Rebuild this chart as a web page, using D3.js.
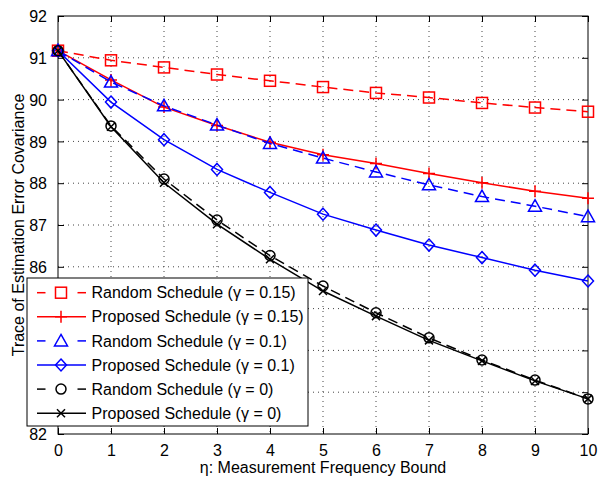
<!DOCTYPE html>
<html>
<head>
<meta charset="utf-8">
<script src="https://cdn.jsdelivr.net/npm/d3@7/dist/d3.min.js"></script>
<style>
  html, body { margin: 0; padding: 0; background: #fff; }
  svg { display: block; font-family: "Liberation Sans", Arial, Helvetica, sans-serif; }
</style>
</head>
<body>
<svg id="chart" width="598" height="479"></svg>
<script>
// ---- Data ----
const etaValues = [0, 1, 2, 3, 4, 5, 6, 7, 8, 9, 10];
const xTicks = [0, 1, 2, 3, 4, 5, 6, 7, 8, 9, 10];
const yTicks = [82, 83, 84, 85, 86, 87, 88, 89, 90, 91, 92];

const randomG015   = [91.17, 90.94, 90.77, 90.60, 90.45, 90.30, 90.16, 90.05, 89.92, 89.81, 89.71];
const proposedG015 = [91.17, 90.47, 89.82, 89.38, 88.98, 88.68, 88.47, 88.23, 88.01, 87.81, 87.64];
const randomG01    = [91.17, 90.42, 89.85, 89.39, 88.95, 88.60, 88.27, 87.96, 87.68, 87.45, 87.20];
const proposedG01  = [91.17, 89.94, 89.04, 88.33, 87.78, 87.26, 86.88, 86.52, 86.22, 85.92, 85.66];
const randomG0     = [91.17, 89.37, 88.10, 87.12, 86.27, 85.54, 84.90, 84.30, 83.77, 83.29, 82.84];
const proposedG0   = [91.17, 89.35, 88.01, 87.02, 86.18, 85.42, 84.82, 84.24, 83.75, 83.27, 82.84];

const seriesNames = [
  "Random Schedule (\u03B3 = 0.15)",
  "Proposed Schedule (\u03B3 = 0.15)",
  "Random Schedule (\u03B3 = 0.1)",
  "Proposed Schedule (\u03B3 = 0.1)",
  "Random Schedule (\u03B3 = 0)",
  "Proposed Schedule (\u03B3 = 0)"
];
const seriesValues = [randomG015, proposedG015, randomG01, proposedG01, randomG0, proposedG0];
const seriesColors = ["#ff0000", "#ff0000", "#0000ff", "#0000ff", "#000000", "#000000"];
const seriesDashed = [true, false, true, false, true, false];
const seriesMarkers = ["square", "plus", "triangle", "diamond", "circle", "cross"];

const xLabel = "\u03B7: Measurement Frequency Bound";
const yLabel = "Trace of Estimation Error Covariance";

(function () {
// ---- Layout ----
const svg = d3.select("#chart");
const pL = 58, pR = 588, pT = 16, pB = 434;
const x = d3.scaleLinear().domain([0, 10]).range([pL, pR]);
const y = d3.scaleLinear().domain([82, 92]).range([pB, pT]);
const FONT = 16;

// Grid
const grid = svg.append("g");
xTicks.slice(1, -1).forEach(t => {
  grid.append("line").attr("x1", x(t)).attr("x2", x(t)).attr("y1", pT).attr("y2", pB)
    .attr("stroke", "#444").attr("stroke-width", 1).attr("stroke-dasharray", "1,4");
});
yTicks.slice(1, -1).forEach(t => {
  grid.append("line").attr("x1", pL).attr("x2", pR).attr("y1", y(t)).attr("y2", y(t))
    .attr("stroke", "#444").attr("stroke-width", 1).attr("stroke-dasharray", "1,4");
});

// Axes (MATLAB style, ticks inward on all sides)
const tickLen = 6;
const axB = svg.append("g").attr("transform", `translate(0,${pB})`)
  .call(d3.axisBottom(x).tickValues(xTicks).tickSize(-tickLen).tickPadding(11).tickFormat(d3.format("d")));
const axT = svg.append("g").attr("transform", `translate(0,${pT})`)
  .call(d3.axisTop(x).tickValues(xTicks).tickSize(-tickLen).tickFormat(""));
const axL = svg.append("g").attr("transform", `translate(${pL},0)`)
  .call(d3.axisLeft(y).tickValues(yTicks).tickSize(-tickLen).tickPadding(11).tickFormat(d3.format("d")));
const axR = svg.append("g").attr("transform", `translate(${pR},0)`)
  .call(d3.axisRight(y).tickValues(yTicks).tickSize(-tickLen).tickFormat(""));
[axB, axT, axL, axR].forEach(a => {
  a.select(".domain").remove();
  a.selectAll(".tick line").attr("stroke", "#000").attr("stroke-width", 1);
  a.selectAll("text").attr("fill", "#000").style("font-size", FONT + "px")
    .style("font-family", '"Liberation Sans", Arial, Helvetica, sans-serif');
});
axB.selectAll("text").attr("dy", "0.71em");
axL.selectAll("text").attr("dy", "0.35em");
svg.append("rect").attr("x", pL).attr("y", pT).attr("width", pR - pL).attr("height", pB - pT)
  .attr("fill", "none").attr("stroke", "#000").attr("stroke-width", 1);

// Marker drawing
function drawMarker(g, type, cx, cy, color) {
  const sw = 1.5;
  if (type === "square") {
    g.append("rect").attr("x", cx - 5.5).attr("y", cy - 5.5).attr("width", 11).attr("height", 11)
      .attr("fill", "none").attr("stroke", color).attr("stroke-width", sw);
  } else if (type === "triangle") {
    g.append("path").attr("d", `M${cx},${cy - 6.5} L${cx + 6.5},${cy + 5} L${cx - 6.5},${cy + 5} Z`)
      .attr("fill", "none").attr("stroke", color).attr("stroke-width", sw);
  } else if (type === "diamond") {
    g.append("path").attr("d", `M${cx},${cy - 6} L${cx + 5.5},${cy} L${cx},${cy + 6} L${cx - 5.5},${cy} Z`)
      .attr("fill", "none").attr("stroke", color).attr("stroke-width", sw);
  } else if (type === "circle") {
    g.append("circle").attr("cx", cx).attr("cy", cy).attr("r", 5)
      .attr("fill", "none").attr("stroke", color).attr("stroke-width", sw);
  } else if (type === "plus") {
    g.append("path").attr("d", `M${cx - 6},${cy} L${cx + 6},${cy} M${cx},${cy - 6} L${cx},${cy + 6}`)
      .attr("fill", "none").attr("stroke", color).attr("stroke-width", sw);
  } else if (type === "cross") {
    g.append("path").attr("d", `M${cx - 4},${cy - 4} L${cx + 4},${cy + 4} M${cx - 4},${cy + 4} L${cx + 4},${cy - 4}`)
      .attr("fill", "none").attr("stroke", color).attr("stroke-width", sw);
  }
}

// Series
const line = d3.line().x(d => x(d[0])).y(d => y(d[1]));
seriesValues.forEach((vals, i) => {
  const g = svg.append("g");
  const pts = etaValues.map((e, j) => [e, vals[j]]);
  g.append("path").attr("d", line(pts)).attr("fill", "none")
    .attr("stroke", seriesColors[i]).attr("stroke-width", 1.5)
    .attr("stroke-dasharray", seriesDashed[i] ? "10,6" : null);
  pts.forEach(p => drawMarker(g, seriesMarkers[i], x(p[0]), y(p[1]), seriesColors[i]));
});

// Legend
const lg = svg.append("g");
const lgX = 27, lgY = 278, lgW = 281, lgH = 148;
lg.append("rect").attr("x", lgX).attr("y", lgY).attr("width", lgW).attr("height", lgH)
  .attr("fill", "#fff").attr("stroke", "#000").attr("stroke-width", 1);
seriesNames.forEach((name, i) => {
  const ry = 292.7 + i * 24.1;
  const c = seriesColors[i];
  if (seriesDashed[i]) {
    lg.append("line").attr("x1", 37).attr("x2", 45.5).attr("y1", ry).attr("y2", ry)
      .attr("stroke", c).attr("stroke-width", 1.5);
    lg.append("line").attr("x1", 77.5).attr("x2", 86).attr("y1", ry).attr("y2", ry)
      .attr("stroke", c).attr("stroke-width", 1.5);
  } else {
    lg.append("line").attr("x1", 37).attr("x2", 86).attr("y1", ry).attr("y2", ry)
      .attr("stroke", c).attr("stroke-width", 1.5);
  }
  drawMarker(lg, seriesMarkers[i], 61, ry, c);
  lg.append("text").attr("x", 91.5).attr("y", ry).attr("dy", "0.35em")
    .style("font-size", FONT + "px").attr("fill", "#000").text(name);
});

// Axis titles
svg.append("text").attr("x", (pL + pR) / 2).attr("y", 473)
  .attr("text-anchor", "middle").style("font-size", FONT + "px").attr("fill", "#000").text(xLabel);
svg.append("text").attr("transform", `translate(24,${(pT + pB) / 2}) rotate(-90)`)
  .attr("text-anchor", "middle").style("font-size", FONT + "px").attr("fill", "#000").text(yLabel);
})();
</script>
</body>
</html>
